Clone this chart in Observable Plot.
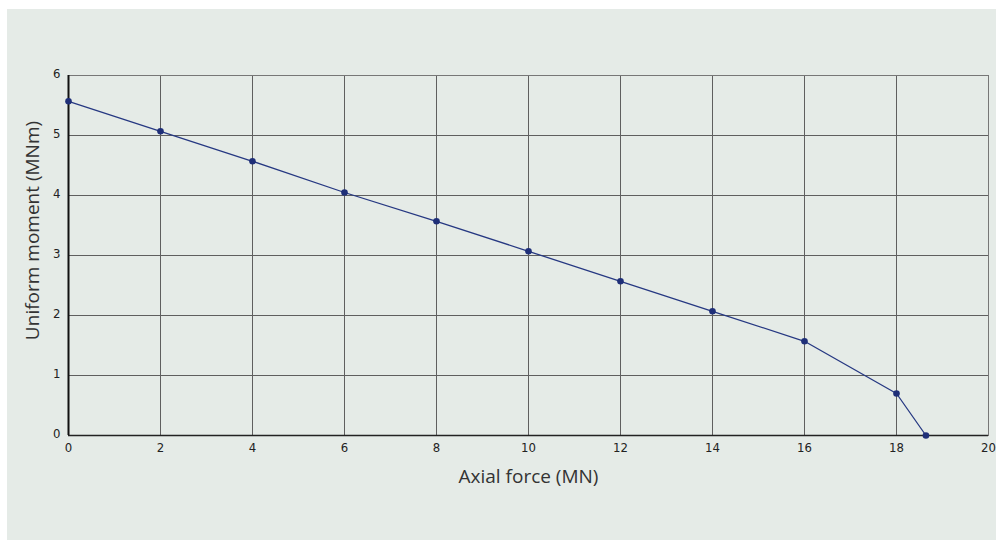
<!DOCTYPE html>
<html>
<head>
<meta charset="utf-8">
<script src="https://cdn.jsdelivr.net/npm/d3@7"></script>
<script src="https://cdn.jsdelivr.net/npm/@observablehq/plot@0.6"></script>
<style>
  html, body { margin: 0; padding: 0; background: #ffffff; }
  #wrap { position: relative; width: 996px; height: 540px; overflow: hidden; }
  #bg { position: absolute; left: 7px; top: 9px; width: 989px; height: 531px; background: #e5ebe7; }
  #chart { position: absolute; left: 0; top: 0; }
  #chart svg { background: transparent; }
</style>
</head>
<body>
<div id="wrap"><div id="bg"></div><div id="chart"></div></div>
<script>
const axialForce = [0, 2, 4, 6, 8, 10, 12, 14, 16, 18, 18.64];
const uniformMoment = [5.57, 5.07, 4.57, 4.05, 3.57, 3.07, 2.57, 2.07, 1.57, 0.70, 0];
const xTicks = [0, 2, 4, 6, 8, 10, 12, 14, 16, 18, 20];
const yTicks = [0, 1, 2, 3, 4, 5, 6];
const xLabel = "Axial force (MN)";
const yLabel = "Uniform moment (MNm)";

const data = axialForce.map((x, i) => ({x, y: uniformMoment[i]}));
const tickFont = "'Liberation Sans Narrow', 'DejaVu Sans Condensed', sans-serif";
const titleFont = "'Open Sans', 'Noto Sans', sans-serif";

const chart = Plot.plot({
  width: 996,
  height: 540,
  marginLeft: 68,
  marginRight: 8,
  marginTop: 75,
  marginBottom: 105,
  style: {background: "transparent", fontFamily: tickFont, fontSize: "13px", color: "#222"},
  x: {domain: [0, 20], label: null},
  y: {domain: [0, 6], label: null},
  marks: [
    Plot.gridX(xTicks, {stroke: "#5f5f5f", strokeOpacity: 1, strokeWidth: 1}),
    Plot.gridY(yTicks, {stroke: "#5f5f5f", strokeOpacity: 1, strokeWidth: 1}),
    Plot.frame({stroke: "#777", strokeWidth: 1}),
    Plot.ruleY([0], {stroke: "#222", strokeWidth: 1.6}),
    Plot.ruleX([0], {stroke: "#111", strokeWidth: 2}),
    Plot.axisX(xTicks, {tickSize: 0, tickPadding: 7, label: null, fill: "#222", tickFormat: "d", fontSize: 13, fontFamily: tickFont}),
    Plot.axisY(yTicks, {tickSize: 0, tickPadding: 8, label: null, fill: "#222", dy: -2, tickFormat: "d", fontSize: 13, fontFamily: tickFont}),
    Plot.line(data, {x: "x", y: "y", stroke: "#263882", strokeWidth: 1.3}),
    Plot.dot(data, {x: "x", y: "y", fill: "#1f2f78", r: 3.3, stroke: "none"}),
    Plot.text([xLabel], {frameAnchor: "bottom", dy: 41, lineAnchor: "middle", fontFamily: titleFont, fontSize: 19, fill: "#333"}),
    Plot.text([yLabel], {frameAnchor: "left", dx: -36, dy: -25, rotate: -90, textAnchor: "middle", lineAnchor: "middle", fontFamily: titleFont, fontSize: 19, fill: "#333"})
  ]
});
document.getElementById("chart").appendChild(chart);
</script>
</body>
</html>
